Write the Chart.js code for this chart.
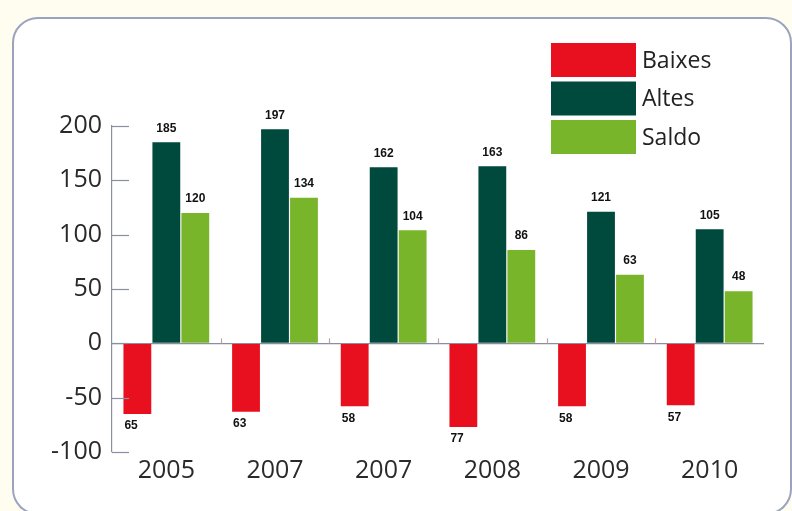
<!DOCTYPE html>
<html>
<head>
  <meta charset="utf-8">
  <title>Baixes, Altes, Saldo</title>
  <script src="https://cdn.jsdelivr.net/npm/chart.js@4.4.1/dist/chart.umd.min.js"></script>
  <style>
  body { margin:0; background:#fffdf0; overflow:hidden; }
  #frame {
    position:absolute; left:12px; top:17px;
    width:776px; height:494px;
    border:2px solid #9ba3bf; border-radius:26px;
    background:#fff;
  }
  #wrap { position:absolute; left:0; top:0; width:792px; height:511px; }
  </style>
</head>
<body>
<div id="frame"></div>
<div id="wrap"><canvas id="myChart" width="792" height="511"></canvas></div>

<script>
// data
var years = ["2005", "2007", "2007", "2008", "2009", "2010"];
var baixes = [-65, -63, -58, -77, -58, -57];
var altes = [185, 197, 162, 163, 121, 105];
var saldo = [120, 134, 104, 86, 63, 48];
var yTicks = [200, 150, 100, 50, 0, -50, -100];

var tickFont = { family: "'Open Sans', 'DejaVu Sans', sans-serif", size: 25 };

// value labels, little ticks, legend
var extras = {
  id: 'extras',
  afterDatasetsDraw: function(chart) {
    var c = chart.ctx, xs = chart.scales.x, ys = chart.scales.y, area = chart.chartArea;
    c.save();
    // inward ticks on the y axis
    c.strokeStyle = '#8a8fa0'; c.lineWidth = 1.2;
    ys.ticks.forEach(function(t) {
      var y = Math.round(ys.getPixelForValue(t.value)) + 0.5;
      c.beginPath(); c.moveTo(area.left, y); c.lineTo(area.left + 17, y); c.stroke();
    });
    // small marks between groups on the zero line
    var y0 = ys.getPixelForValue(0);
    c.strokeStyle = '#c8a0a8';
    for (var i = 1; i < years.length; i++) {
      var xb = Math.round((xs.getPixelForValue(i - 1) + xs.getPixelForValue(i)) / 2) + 0.5;
      c.beginPath(); c.moveTo(xb, y0); c.lineTo(xb, y0 - 5); c.stroke();
    }
    // value labels
    c.fillStyle = '#111';
    c.font = "bold 12px 'Liberation Sans', Arial, sans-serif";
    c.textBaseline = 'middle';
    chart.data.datasets.forEach(function(ds, di) {
      chart.getDatasetMeta(di).data.forEach(function(bar, k) {
        var v = ds.data[k];
        if (v < 0) {
          c.textAlign = 'left';
          c.fillText(String(Math.abs(v)), bar.x - bar.width / 2 + 1, bar.y + 12);
        } else {
          c.textAlign = 'center';
          c.fillText(String(v), bar.x, bar.y - 14);
        }
      });
    });
    // legend
    c.font = "23px 'Open Sans', 'DejaVu Sans', sans-serif";
    c.textAlign = 'left';
    chart.data.datasets.forEach(function(ds, di) {
      var top = 43 + di * 38.5;
      c.fillStyle = ds.backgroundColor;
      c.fillRect(551, top, 85, 34);
      c.fillStyle = '#222';
      c.fillText(ds.label, 642, top + 18);
    });
    c.restore();
  }
};

var ctx = document.getElementById("myChart").getContext('2d');
var myChart = new Chart(ctx, {
  type: 'bar',
  data: {
    labels: years,
    datasets: [
      { label: 'Baixes', data: baixes, backgroundColor: '#e8101e' },
      { label: 'Altes', data: altes, backgroundColor: '#00493d' },
      { label: 'Saldo', data: saldo, backgroundColor: '#78b52a' }
    ]
  },
  options: {
    responsive: false,
    animation: false,
    layout: { padding: { left: 12, right: 28, top: 126, bottom: 19 } },
    datasets: { bar: { categoryPercentage: 0.8, barPercentage: 0.96 } },
    plugins: {
      legend: { display: false },
      title: { display: false },
      tooltip: { enabled: false }
    },
    scales: {
      x: {
        grid: { display: false },
        border: { display: false },
        ticks: { font: tickFont, color: '#2a2a2a', padding: -4, maxRotation: 0 },
        afterFit: function(s) { s.height = 40; }
      },
      y: {
        min: -100, max: 200,
        afterBuildTicks: function(s) { s.ticks = yTicks.map(function(v) { return { value: v }; }); },
        ticks: { font: tickFont, color: '#2a2a2a', padding: 10 },
        grid: {
          drawTicks: false,
          color: function(c) { return c.tick && c.tick.value === 0 ? '#8a8fa0' : 'rgba(0,0,0,0)'; },
          lineWidth: 1.2
        },
        border: { display: true, color: '#8a8fa0', width: 1.2 },
        afterFit: function(s) { s.width = 100; }
      }
    }
  },
  plugins: [extras]
});
</script>
</body>
</html>
